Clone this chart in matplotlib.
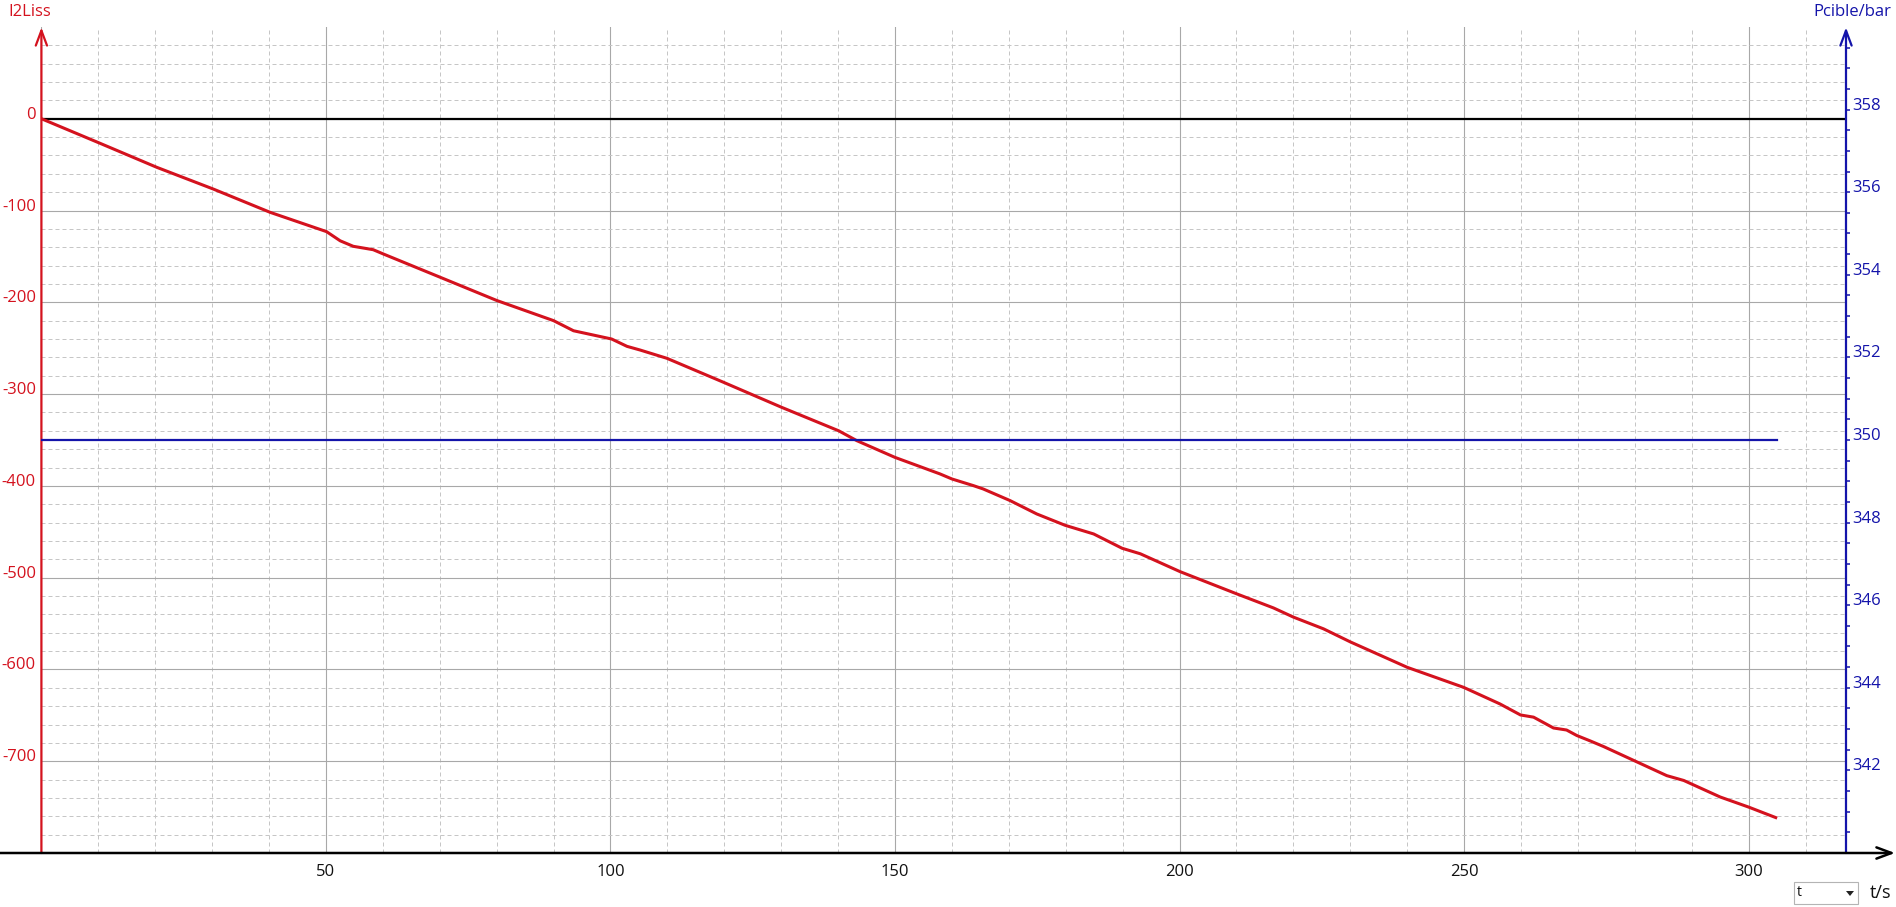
import matplotlib
matplotlib.use("Agg")
import matplotlib.pyplot as plt
from matplotlib.ticker import MultipleLocator
from matplotlib.patches import Rectangle, Polygon

# ---- data ----
t_i2 = [0, 10.2, 20.3, 30.2, 40.2, 50.1, 52.5, 54.8, 58.3, 60.1, 70.1, 80, 90, 93.5,
        100.2, 102.9, 105.2, 109.9, 119.8, 130.1, 140.1, 143.3, 150, 157.9, 160, 163.8,
        165.5, 170.2, 174.9, 179.9, 184.9, 189.9, 193.1, 200.1, 210.1, 216.5, 220, 225.3,
        230, 240, 249.9, 256.3, 259.9, 262.2, 265.7, 268, 269.8, 272.2, 274.5, 280.1,
        285.6, 288.6, 295, 300, 305]
i2liss = [0, -26.5, -53, -76.6, -102, -123, -133, -139, -142.7, -147.4, -172.8, -198, -220,
          -231, -240, -248, -252, -261, -287, -314.5, -340, -350.8, -369, -387, -392.5,
          -399.8, -403.4, -416, -430.6, -443, -452.4, -468, -474, -493.5, -517.8, -533,
          -543, -555.8, -570, -597.7, -619.5, -637.6, -649.6, -652, -663.8, -666, -672,
          -678, -684, -700, -715.7, -721, -739, -750, -762]
t_p = [0, 305]
pcible = [350, 350]

x_labels = [50, 100, 150, 200, 250, 300]
left_labels = [0, -100, -200, -300, -400, -500, -600, -700]
right_labels = [342, 344, 346, 348, 350, 352, 354, 356, 358]

RED = '#D4121E'
BLUE = '#1414AA'
plt.rcParams['font.family'] = ['Open Sans', 'DejaVu Sans']

W_PX, H_PX = 1896, 907
fig = plt.figure(figsize=(W_PX / 100, H_PX / 100), dpi=100)
x0, x1, y_bot, y_top = 41.4, 1846.0, 853.0, 27.4
ax = fig.add_axes([x0 / W_PX, (H_PX - y_bot) / H_PX, (x1 - x0) / W_PX, (y_bot - y_top) / H_PX])
ax.set_xlim(0, 317.1)
ax.set_ylim(-800, 99.5)
for s in ax.spines.values():
    s.set_visible(False)
ax.xaxis.set_major_locator(MultipleLocator(50))
ax.xaxis.set_minor_locator(MultipleLocator(10))
ax.yaxis.set_major_locator(MultipleLocator(100))
ax.yaxis.set_minor_locator(MultipleLocator(20))
ax.tick_params(which='both', length=0, labelbottom=False, labelleft=False)
ax.grid(which='major', color='#A8A8A8', lw=0.8, ls='-')
ax.grid(which='minor', color='#C6C6C6', lw=0.72, ls=(0, (4, 3)))
ax.set_axisbelow(True)

ax.axhline(0, color='black', lw=1.6, zorder=2)
ax.plot(t_i2, i2liss, color=RED, lw=2.2, zorder=4, solid_capstyle='butt')

ax2 = ax.twinx()
ax2.set_ylim(340, 340 + 20 * (899.5 / 900))
for s in ax2.spines.values():
    s.set_visible(False)
ax2.yaxis.set_major_locator(MultipleLocator(2))
ax2.yaxis.set_minor_locator(MultipleLocator(0.5))
ax2.tick_params(which='both', right=True, left=False, direction='out', color=BLUE,
                length=3, width=1.1, labelright=False, labelleft=False)
ax2.plot(t_p, pcible, color=BLUE, lw=1.6, zorder=3)

# axes arrows
ms = 15
ax.annotate('', xy=(0, 1.0), xytext=(0, 0), xycoords='axes fraction',
            arrowprops=dict(arrowstyle='->,head_length=0.72,head_width=0.27', color=RED,
                            lw=1.6, shrinkA=0, shrinkB=0, mutation_scale=ms),
            annotation_clip=False, zorder=6)
ax2.annotate('', xy=(1.0, 1.0), xytext=(1.0, 0), xycoords='axes fraction',
             arrowprops=dict(arrowstyle='->,head_length=0.72,head_width=0.27', color=BLUE,
                             lw=1.6, shrinkA=0, shrinkB=0, mutation_scale=ms),
             annotation_clip=False, zorder=6)
ax2.annotate('', xy=((1895 - x0) / (x1 - x0), 0), xytext=(-x0 / (x1 - x0), 0),
             xycoords='axes fraction',
             arrowprops=dict(arrowstyle='->,head_length=0.72,head_width=0.27', color='black',
                             lw=1.8, shrinkA=0, shrinkB=0, mutation_scale=ms),
             annotation_clip=False, zorder=7)

FS = 12
# tick labels
for v in left_labels:
    ax.text((36 - x0) / (x1 - x0), v, str(v), transform=ax.get_yaxis_transform(),
            ha='right', va='baseline', color=RED, fontsize=FS)
for v in right_labels:
    ax2.text((1852 - x0) / (x1 - x0), v, str(v), transform=ax2.get_yaxis_transform(),
             ha='left', va='baseline', color=BLUE, fontsize=FS)
for v in x_labels:
    ax.text(v, -(864 - y_bot) / (y_bot - y_top), str(v), transform=ax.get_xaxis_transform(),
            ha='center', va='top', color='#111111', fontsize=FS)

# axis titles
fig.text(8 / W_PX, 1 - 12 / H_PX, 'I2Liss', color=RED, fontsize=FS, ha='left', va='center')
fig.text(1891 / W_PX, 1 - 12 / H_PX, 'Pcible/bar', color=BLUE, fontsize=FS, ha='right', va='center')
fig.text(1891 / W_PX, 1 - 893 / H_PX, 't/s', color='#111111', fontsize=FS + 1, ha='right', va='center')

# selector box
fig.patches.append(Rectangle((1794 / W_PX, (H_PX - 904) / H_PX), 64 / W_PX, 22 / H_PX,
                             transform=fig.transFigure, fc='white', ec='#B4B4B4', lw=0.8))
fig.text(1797 / W_PX, 1 - 893 / H_PX, 't', color='#111111', fontsize=10, ha='left', va='center')
fig.patches.append(Polygon([(1846 / W_PX, 1 - 891 / H_PX), (1854 / W_PX, 1 - 891 / H_PX),
                            (1850 / W_PX, 1 - 896 / H_PX)], closed=True,
                           transform=fig.transFigure, fc='#222222', ec='none'))

fig.savefig('out.png', dpi=100)
